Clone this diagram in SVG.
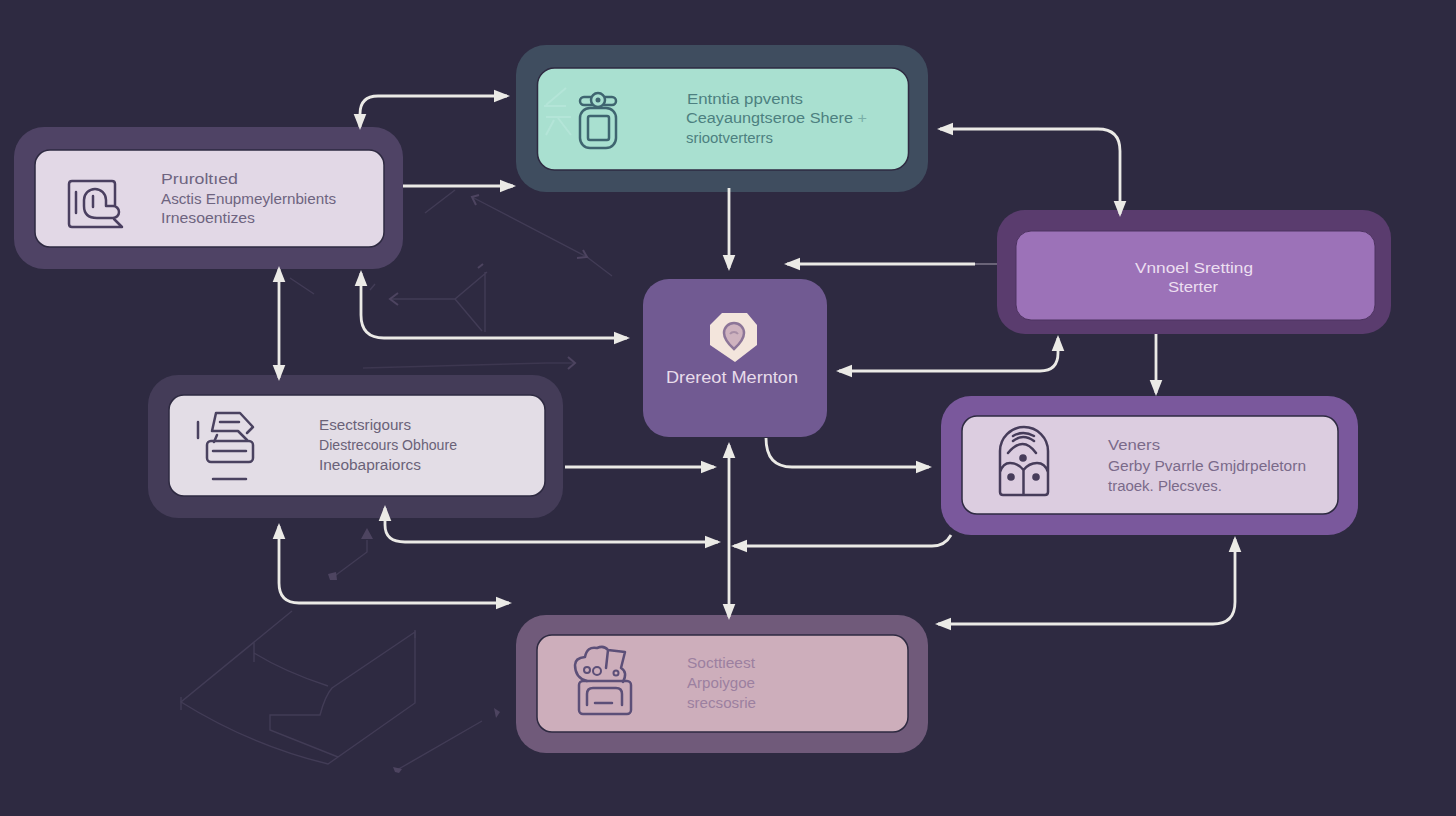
<svg xmlns="http://www.w3.org/2000/svg" width="1456" height="816" viewBox="0 0 1456 816">
<style>
text{font-family:"Liberation Sans",Arial,sans-serif;font-size:14px}
.in{stroke:#2e2a41;stroke-width:1.5}
.ic{fill:none;stroke-width:2.5;stroke-linecap:round;stroke-linejoin:round}
.c{fill:none;stroke:#ebeae6;stroke-width:2.8;stroke-linecap:butt}
.a{marker-end:url(#h)}
.d{marker-start:url(#h);marker-end:url(#h)}
.f{fill:none;stroke:#423c56;stroke-width:1.4}
.g{fill:none;stroke:#4d4460;stroke-width:2}
</style>
<defs>
<marker id="h" markerUnits="userSpaceOnUse" markerWidth="18" markerHeight="14" refX="13" refY="7" orient="auto-start-reverse">
<path d="M0,0.700 L16,7 L0,13.300 Z" fill="#ebeae6"/>
</marker>
</defs>
<rect width="1456" height="816" fill="#2e2a41"/>

<g id="faint">
<path class="f" d="M292,611 L181,702 Q250,745 328,764 L415,703 V632 L332,688 Q325,696 320,715 H270 V730 L338,757"/>
<path class="f" d="M254,653 Q285,672 328,686 M254,643 V662 M181,697 V710 M415,630 V638"/>
<path class="f" d="M367,540 V552 L332,578 M482,721 L397,770"/>
<path d="M361,539 L367,528 L373,539 Z M328,574 L336,572 L337,580 L330,580 Z M393,767 L402,769 L399,773 L395,772 Z M494,708 L500,712 L496,718 Z" fill="#4d4460"/>
<path class="f" d="M425,213 L455,190"/>
<path class="f" d="M472,197 L587,257 L612,276"/>
<path class="g" d="M479,195 L472,197 L476,205 M577,258 L587,257 L583,250"/>
<path class="f" d="M290,278 L314,294 M370,290 L375,284"/>
<path class="f" d="M390,299 H455 L487,272 M485,272 V332 M455,299 L482,331"/>
<path class="g" d="M398,293 L390,299 L398,305 M478,268 L483,264"/>
<path d="M363,368 L547,363 H573" fill="none" stroke="#3d3750" stroke-width="1.400"/>
<path class="g" d="M568,357 L575,363 L568,369"/>
<path d="M975,264 H997" fill="none" stroke="#6a6478" stroke-width="2"/>
</g>

<g id="node-top">
<rect x="516" y="45" width="412" height="147" rx="30" fill="#3f4d5f"/>
<rect class="in" x="537.500" y="68" width="371" height="102" rx="17" fill="#a9e0d0"/>
<path d="M566,88 L546,105 M544,106 H566 M546,117 H571 M558,118 L571,135 M554,120 L546,135" fill="none" stroke="#b4e5d8" stroke-width="2"/>
<rect class="ic" x="580" y="108" width="36" height="40" rx="10" stroke="#3f6570"/>
<rect class="ic" x="588" y="116" width="21" height="24" rx="2" stroke="#3f6570"/>
<rect class="ic" x="580" y="97" width="36" height="8" rx="4" stroke="#3f6570" fill="#a9e0d0"/>
<circle cx="598" cy="100" r="7" fill="#a9e0d0" stroke="#3f6570" stroke-width="2.500"/>
<circle cx="598" cy="100" r="2.500" fill="#3f6570"/>
<g fill="#4d8080">
<text x="687" y="104" textLength="116" lengthAdjust="spacingAndGlyphs">Entntia ppvents</text>
<text x="686" y="123" textLength="181" lengthAdjust="spacingAndGlyphs">Ceayaungtseroe Shere <tspan opacity="0.500">+</tspan></text>
<text x="686" y="143" textLength="87" lengthAdjust="spacingAndGlyphs">sriootverterrs</text>
</g>
</g>

<g id="node-left">
<rect x="14" y="127" width="389" height="142" rx="30" fill="#4f4365"/>
<rect class="in" x="35" y="150" width="349" height="97" rx="15" fill="#e2d8e6"/>
<path class="ic" stroke="#4a3f60" d="M115,205 V184 Q115,181 112,181 H72 Q69,181 69,184 V224 Q69,227 72,227 H122 L114,219 M76,192 V213 M93,207 V196 M84,200 A11,11 0 0 1 106,200 V206 H113 A6,6 0 0 1 113,218 H97 Q84,218 84,206 Z"/>
<g fill="#6e6480">
<text x="161" y="184" textLength="77" lengthAdjust="spacingAndGlyphs">Pruroltıed</text>
<text x="161" y="204" textLength="175" lengthAdjust="spacingAndGlyphs">Asctis Enupmeylernbients</text>
<text x="161" y="223" textLength="94" lengthAdjust="spacingAndGlyphs">Irnesoentizes</text>
</g>
</g>

<g id="node-esc">
<rect x="148" y="375" width="415" height="143" rx="30" fill="#443c58"/>
<rect class="in" x="169" y="395" width="376" height="101" rx="15" fill="#e3dde6"/>
<path class="ic" stroke="#4a4260" d="M198,422 V438 M212,431 L216,413 H240 L253,427 L247,433 M212,431 H238 L247,440 M220,422 H239 M217,435 L214,442"/>
<rect class="ic" x="207" y="441" width="46" height="21" rx="4" stroke="#4a4260"/>
<path class="ic" stroke="#4a4260" d="M213,451 H246 M213,479 H246"/>
<g fill="#6a6278">
<text x="319" y="430" textLength="92" lengthAdjust="spacingAndGlyphs">Esectsrigours</text>
<text x="319" y="450" textLength="138" lengthAdjust="spacingAndGlyphs">Diestrecours Obhoure</text>
<text x="319" y="470" textLength="102" lengthAdjust="spacingAndGlyphs">Ineobapraiorcs</text>
</g>
</g>

<g id="node-center">
<rect x="643" y="279" width="184" height="158" rx="26" fill="#715a92"/>
<path d="M710,325 L722,313 H747 L757,325 V345 L735,362 L710,345 Z" fill="#f3e5dc"/>
<path d="M734,349 Q724,340 724,333 A10,10 0 0 1 744,333 Q744,340 734,349 Z" fill="#cfb3bf" stroke="#8c7598" stroke-width="2.500"/>
<path d="M730,334 A5,5 0 0 1 738,334" fill="none" stroke="#a98fa6" stroke-width="2"/>
<text x="666" y="383" textLength="132" lengthAdjust="spacingAndGlyphs" fill="#e8dcea" style="font-size:17px">Drereot Mernton</text>
</g>

<g id="node-vnnoel">
<rect x="997" y="210" width="394" height="124" rx="28" fill="#5a3c6e"/>
<rect x="1016" y="231" width="359" height="89" rx="15" fill="#9c72b8" stroke="#4d3360" stroke-width="1"/>
<g fill="#ecdff0">
<text x="1135" y="273" textLength="118" lengthAdjust="spacingAndGlyphs">Vnnoel Sretting</text>
<text x="1168" y="292" textLength="50" lengthAdjust="spacingAndGlyphs">Sterter</text>
</g>
</g>

<g id="node-veners">
<rect x="941" y="396" width="417" height="139" rx="30" fill="#7a589c"/>
<rect class="in" x="962" y="416" width="376" height="98" rx="15" fill="#dccde0"/>
<path class="ic" stroke="#463c5a" d="M1000,492 V451 A24,24 0 0 1 1048,451 V492 Q1048,495 1045,495 H1003 Q1000,495 1000,492 Z M1023.500,470 V495 M1000,472 Q1003,463 1010,463 Q1018,463 1023.500,470 Q1029,463 1037,463 Q1045,463 1048,472 M1008,453 Q1023,435 1036,453 M1013,441 Q1023,433 1034,441 M1013,436 Q1023,430 1034,436"/>
<g fill="#463c5a"><circle cx="1023" cy="458" r="3.800"/><circle cx="1011" cy="477" r="3.800"/><circle cx="1036" cy="477" r="3.800"/></g>
<g fill="#7a6a8a">
<text x="1108" y="450" textLength="52" lengthAdjust="spacingAndGlyphs">Veners</text>
<text x="1108" y="471" textLength="198" lengthAdjust="spacingAndGlyphs">Gerby Pvarrle Gmjdrpeletorn</text>
<text x="1108" y="491" textLength="114" lengthAdjust="spacingAndGlyphs">traoek. Plecsves.</text>
</g>
</g>

<g id="node-social">
<rect x="516" y="615" width="412" height="138" rx="30" fill="#705a7a"/>
<rect class="in" x="537" y="635" width="371" height="97" rx="15" fill="#cdaebb"/>
<rect class="ic" x="579" y="681" width="52" height="33" rx="4" stroke="#5c4f78"/>
<path class="ic" stroke="#5c4f78" d="M587,705 V694 Q587,688 593,688 H616 Q622,688 622,694 V705 M595,703 H612 M587,681 Q575,678 575,665 Q575,658 585,657 Q587,646 597,648 Q604,645 608,650 L606,668 M608,650 L625,652 L621,668 Q628,672 623,682"/>
<g fill="none" stroke="#5c4f78" stroke-width="2"><circle cx="587" cy="670" r="3"/><circle cx="597" cy="671" r="4"/><circle cx="616" cy="673" r="2.500"/></g>
<g fill="#9c80a0">
<text x="687" y="668" textLength="68" lengthAdjust="spacingAndGlyphs">Socttieest</text>
<text x="687" y="688" textLength="68" lengthAdjust="spacingAndGlyphs">Arpoiygoe</text>
<text x="687" y="708" textLength="69" lengthAdjust="spacingAndGlyphs">srecsosrie</text>
</g>
</g>

<g id="connectors">
<path class="c d" d="M360,127 V114 Q360,96 378,96 H507"/>
<path class="c a" d="M403,186 H513"/>
<path class="c a" d="M729,188 V268"/>
<path class="c d" d="M940,129 H1098 Q1120,129 1120,151 V214"/>
<path class="c a" d="M975,264 H787"/>
<path class="c a" d="M1156,334 V393"/>
<path class="c d" d="M839,371 H1040 Q1058,371 1058,353 V338"/>
<path class="c d" d="M279,269 V378"/>
<path class="c d" d="M361,273 V315 Q361,338 384,338 H627"/>
<path class="c a" d="M565,467 H714"/>
<path class="c a" d="M766,438 Q766,467 792,467 H929"/>
<path class="c d" d="M385,508 V525 Q385,542 405,542 H718"/>
<path class="c a" d="M951,535 Q945,546 932,546 H734"/>
<path class="c d" d="M729,445 V617"/>
<path class="c d" d="M279,526 V583 Q279,603 299,603 H509"/>
<path class="c d" d="M938,624 H1213 Q1235,624 1235,602 V539"/>
</g>
</svg>
